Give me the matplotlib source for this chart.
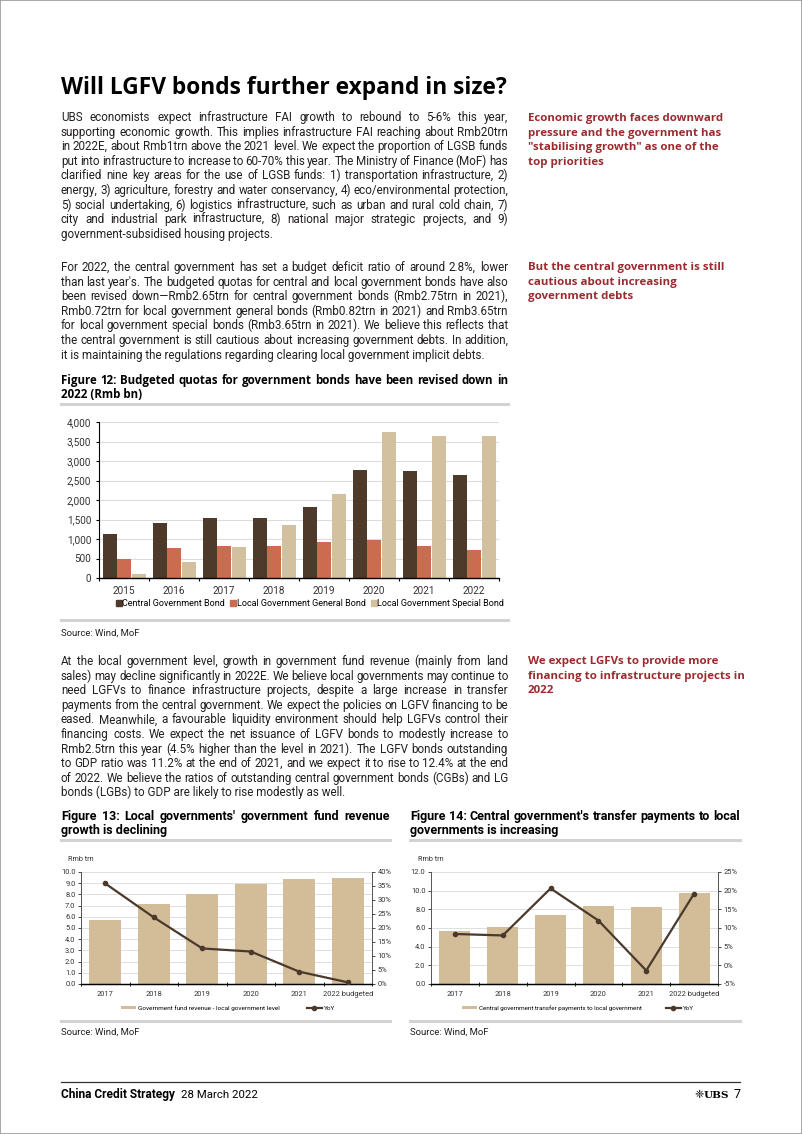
import numpy as np
import matplotlib
matplotlib.use('Agg')
import matplotlib.pyplot as plt
from matplotlib import font_manager
from matplotlib.font_manager import FontProperties
from matplotlib.lines import Line2D
from matplotlib.patches import Patch, Rectangle
from matplotlib.ticker import FuncFormatter, MultipleLocator

# Figure 12: budgeted quotas (Rmb bn)
years12 = ['2015', '2016', '2017', '2018', '2019', '2020', '2021', '2022']
central_bond = [1120, 1400, 1550, 1550, 1830, 2780, 2750, 2650]
local_general_bond = [500, 780, 830, 830, 930, 980, 820, 720]
local_special_bond = [100, 400, 800, 1350, 2150, 3750, 3650, 3650]
bond_labels = ['Central Government Bond', 'Local Government General Bond',
               'Local Government Special Bond']

# Figure 13: government fund revenue, local level (Rmb trn) and YoY (%)
years13 = ['2017', '2018', '2019', '2020', '2021', '2022 budgeted']
fund_revenue = [5.75, 7.13, 8.03, 8.93, 9.37, 9.42]
fund_revenue_yoy = [35.9, 23.8, 12.7, 11.6, 4.4, 0.6]

# Figure 14: central transfer payments to local government (Rmb trn) and YoY (%)
years14 = ['2017', '2018', '2019', '2020', '2021', '2022 budgeted']
transfer_payments = [5.72, 6.15, 7.42, 8.32, 8.22, 9.77]
transfer_yoy = [8.4, 8.0, 20.6, 12.0, -1.4, 19.2]

title = 'Will LGFV bonds further expand in size?'
para1 = [
    'UBS economists expect infrastructure FAI growth to rebound to 5-6% this year,',
    'supporting economic growth. This implies infrastructure FAI reaching about Rmb20trn',
    'in 2022E, about Rmb1trn above the 2021 level. We expect the proportion of LGSB funds',
    'put into infrastructure to increase to 60-70% this year. The Ministry of Finance (MoF) has',
    'clarified nine key areas for the use of LGSB funds: 1) transportation infrastructure, 2)',
    'energy, 3) agriculture, forestry and water conservancy, 4) eco/environmental protection,',
    '5) social undertaking, 6) logistics infrastructure, such as urban and rural cold chain, 7)',
    'city and industrial park infrastructure, 8) national major strategic projects, and 9)',
    'government-subsidised housing projects.',
]
para2 = [
    'For 2022, the central government has set a budget deficit ratio of around 2.8%, lower',
    "than last year's. The budgeted quotas for central and local government bonds have also",
    'been revised down\u2014Rmb2.65trn for central government bonds (Rmb2.75trn in 2021),',
    'Rmb0.72trn for local government general bonds (Rmb0.82trn in 2021) and Rmb3.65trn',
    'for local government special bonds (Rmb3.65trn in 2021). We believe this reflects that',
    'the central government is still cautious about increasing government debts. In addition,',
    'it is maintaining the regulations regarding clearing local government implicit debts.',
]
para3 = [
    'At the local government level, growth in government fund revenue (mainly from land',
    'sales) may decline significantly in 2022E. We believe local governments may continue to',
    'need LGFVs to finance infrastructure projects, despite a large increase in transfer',
    'payments from the central government. We expect the policies on LGFV financing to be',
    'eased. Meanwhile, a favourable liquidity environment should help LGFVs control their',
    'financing costs. We expect the net issuance of LGFV bonds to modestly increase to',
    'Rmb2.5trn this year (4.5% higher than the level in 2021). The LGFV bonds outstanding',
    'to GDP ratio was 11.2% at the end of 2021, and we expect it to rise to 12.4% at the end',
    'of 2022. We believe the ratios of outstanding central government bonds (CGBs) and LG',
    'bonds (LGBs) to GDP are likely to rise modestly as well.',
]
note1 = ['Economic growth faces downward', 'pressure and the government has',
         '"stabilising growth" as one of the', 'top priorities']
note2 = ['But the central government is still', 'cautious about increasing', 'government debts']
note3 = ['We expect LGFVs to provide more', 'financing to infrastructure projects in', '2022']
fig12_title = ['Figure 12: Budgeted quotas for government bonds have been revised down in',
               '2022 (Rmb bn)']
fig13_title = ["Figure 13: Local governments' government fund revenue", 'growth is declining']
fig14_title = ["Figure 14: Central government's transfer payments to local",
               'governments is increasing']

W, H = 802, 1134
BODY = 'Roboto'
HEAD = 'Open Sans'
names = {f.name for f in font_manager.fontManager.ttflist}
NARROW = 'Liberation Sans Narrow' if 'Liberation Sans Narrow' in names else BODY
INK = '#231f20'
RED = '#9b2b2f'
C_CENTRAL = '#4e3a2b'
C_GENERAL = '#c96c4f'
C_SPECIAL = '#d3c09f'
TAN = '#d2bd98'
DARK = '#4b3a2c'
RULE = '#d2d2d2'

fig = plt.figure(figsize=(W / 100, H / 100), dpi=100)
fig.patch.set_facecolor('white')
renderer = fig.canvas.get_renderer()


def fx(x):
    return x / W


def fy(y):
    return 1 - y / H


def tw(s, prop):
    return renderer.get_text_width_height_descent(s, prop, ismath=False)[0]


def fit(s, width, family, weight='normal', base=10.0):
    return base * width / tw(s, FontProperties(family=family, weight=weight, size=base))


def put(s, x0, x1, y, prop, color, justify):
    if not justify:
        fig.text(fx(x0), fy(y), s, fontproperties=prop, color=color, va='baseline')
        return
    words = s.split(' ')
    widths = [tw(w, prop) for w in words]
    gap = (x1 - x0 - sum(widths)) / max(len(words) - 1, 1)
    x = x0
    for w, wd in zip(words, widths):
        fig.text(fx(x), fy(y), w, fontproperties=prop, color=color, va='baseline')
        x += wd + gap


def block(lines, x0, x1, y0, step, prop, color=INK, justify=True):
    for i, s in enumerate(lines):
        put(s, x0, x1, y0 + i * step, prop, color, justify and i < len(lines) - 1)


def rule(x0, x1, y, color=RULE, lw=2.2):
    fig.add_artist(Line2D([fx(x0), fx(x1)], [fy(y), fy(y)], color=color, lw=lw))


# page frame
fig.add_artist(Rectangle((0, 0), 1, 1, transform=fig.transFigure, fill=False,
                         ec='#9a9a9a', lw=1.2))

# headline + body
s_title = fit(title, 447, HEAD, 'bold')
fig.text(fx(61), fy(94), title, fontproperties=FontProperties(family=HEAD, weight='bold',
         size=s_title), color='black', va='baseline')

body_size = fit(para1[1], 447 * 0.99, BODY)
body = FontProperties(family=BODY, size=body_size)
step = 14.6
block(para1, 61, 508, 121, step, body)
block(para2, 61, 508, 271, step, body)
block(para3, 61, 508, 665, step, body)

note_size = fit(note1[0], 195, HEAD, 'bold')
note = FontProperties(family=HEAD, weight='bold', size=note_size)
block(note1, 528, 740, 121, step, note, RED, justify=False)
block(note2, 528, 740, 270, step, note, RED, justify=False)
block(note3, 528, 740, 664, step, note, RED, justify=False)

# Figure 12 caption
cap = FontProperties(family=HEAD, weight='bold', size=fit(fig12_title[0], 447 * 0.995, HEAD, 'bold'))
block(fig12_title, 61, 508, 384, 14.0, cap, 'black')
rule(61, 508, 404)
rule(61, 508, 620)
small = FontProperties(family=BODY, size=body_size * 0.82)
fig.text(fx(61), fy(636), 'Source: Wind, MoF', fontproperties=small, color=INK, va='baseline')

# Figure 12 chart
ax = fig.add_axes([fx(99), fy(578), (499 - 99) / W, (578 - 422) / H])
x = np.arange(len(years12))
bw = 0.28
ax.bar(x - 0.29, central_bond, bw, color=C_CENTRAL, zorder=2)
ax.bar(x, local_general_bond, bw, color=C_GENERAL, zorder=2)
ax.bar(x + 0.29, local_special_bond, bw, color=C_SPECIAL, zorder=2)
ax.set_xlim(-0.5, len(years12) - 0.5)
ax.set_ylim(0, 4000)
ax.yaxis.set_major_locator(MultipleLocator(500))
ax.yaxis.set_major_formatter(FuncFormatter(lambda v, p: f'{v:,.0f}'))
ax.grid(axis='y', color='#dcdcdc', lw=0.8, zorder=0)
ax.set_axisbelow(True)
ax.set_xticks(x, years12)
ax.set_xticks(np.arange(len(years12) + 1) - 0.5, minor=True)
for side in ['top', 'right']:
    ax.spines[side].set_visible(False)
ax.spines['left'].set_linewidth(0.8)
ax.spines['bottom'].set_linewidth(1.0)
ax.tick_params(axis='x', which='major', length=0, pad=6, labelsize=7.2, labelcolor='#333333')
ax.tick_params(axis='x', which='minor', length=2.5, width=0.8)
ax.tick_params(axis='y', length=2.5, width=0.8, labelsize=7.2, labelcolor='#333333', pad=3)
for t in ax.get_xticklabels() + ax.get_yticklabels():
    t.set_family(BODY)
handles = [Line2D([], [], ls='', marker='s', ms=4, color=c)
           for c in (C_CENTRAL, C_GENERAL, C_SPECIAL)]
leg_size = fit(bond_labels[0], 103, BODY)
fig.legend(handles, bond_labels, loc='center', bbox_to_anchor=(fx(310), fy(604)), ncol=3,
           frameon=False, prop=FontProperties(family=BODY, size=leg_size), handlelength=0.6,
           handletextpad=0.1, columnspacing=0.6, borderpad=0)

# Figure 13 / 14 captions
cap2_size = fit(fig14_title[0], 330, NARROW, 'bold')
cap2 = FontProperties(family=NARROW, weight='bold', size=cap2_size)
block(fig13_title, 61, 390, 820, 14.0, cap2, 'black')
block(fig14_title, 410, 740, 820, 14.0, cap2, 'black')
for a, b in ((61, 390), (410, 740)):
    rule(a, b, 840)
    rule(a, b, 1021)
    fig.text(fx(a), fy(1035), 'Source: Wind, MoF', fontproperties=small, color=INK, va='baseline')


def combo(left, right, cats, bars, yoy, ymax, ystep, rlim, rstep, label, leg_x, colsp, lsize):
    ax = fig.add_axes([fx(left), fy(984), (right - left) / W, (984 - 872) / H])
    x = np.arange(len(cats))
    ax.bar(x, bars, 0.65, color=TAN, zorder=2)
    ax.set_xlim(-0.5, len(cats) - 0.5)
    ax.set_ylim(0, ymax)
    ax.yaxis.set_major_locator(MultipleLocator(ystep))
    ax.yaxis.set_major_formatter(FuncFormatter(lambda v, p: f'{v:.1f}'))
    ax.grid(axis='y', color='#d9d9d9', lw=0.6, zorder=0)
    ax.set_axisbelow(True)
    ax.set_xticks(x, cats)
    ax.set_xticks(np.arange(len(cats) + 1) - 0.5, minor=True)
    ax.tick_params(axis='x', which='major', length=0, pad=5, labelsize=5.4, labelcolor='#333333')
    ax.tick_params(axis='x', which='minor', length=2.5, width=0.6, direction='inout')
    ax.tick_params(axis='y', length=2, width=0.5, labelsize=5.4, labelcolor='#333333', pad=2)
    axr = ax.twinx()
    axr.plot(x, yoy, color=DARK, lw=1.6, marker='o', ms=3, zorder=3)
    axr.set_ylim(*rlim)
    axr.yaxis.set_major_locator(MultipleLocator(rstep))
    axr.yaxis.set_major_formatter(FuncFormatter(lambda v, p: f'{v:.0f}%'))
    axr.tick_params(axis='y', length=2, width=0.5, labelsize=5.4, labelcolor='#333333', pad=2)
    for a in (ax, axr):
        a.spines['top'].set_visible(False)
        for side in ('left', 'right'):
            a.spines[side].set_linewidth(0.6)
            a.spines[side].set_color('#555555')
        a.spines['bottom'].set_linewidth(0.9)
    for t in ax.get_xticklabels() + ax.get_yticklabels() + axr.get_yticklabels():
        t.set_family(BODY)
    fig.text(fx(left - 13), fy(861), 'Rmb trn', fontproperties=FontProperties(family=BODY, size=5.2),
             color='#333333', va='baseline')
    h = [Patch(facecolor=TAN), Line2D([], [], color=DARK, lw=1.6, marker='o', ms=3)]
    fig.legend(h, [label, 'YoY'], loc='center', bbox_to_anchor=(fx(leg_x), fy(1008)), ncol=2,
               frameon=False, prop=FontProperties(family=BODY, size=lsize), handlelength=2.4,
               handleheight=0.45, handletextpad=0.3, columnspacing=colsp, borderpad=0)


combo(81, 372, years13, fund_revenue, fund_revenue_yoy, 10, 1.0, (0, 40), 5,
      'Government fund revenue - local government level', 228, 4.3,
      fit('Government fund revenue - local government level', 141, BODY))
combo(431, 718, years14, transfer_payments, transfer_yoy, 12, 2.0, (-5, 25), 5,
      'Central government transfer payments to local government', 578, 3.8,
      fit('Central government transfer payments to local government', 165, BODY))

# footer
rule(61, 740, 1082, color='#333333', lw=0.9)
fig.text(fx(61), fy(1098), 'China Credit Strategy',
         fontproperties=FontProperties(family=NARROW, weight='bold', size=fit('China Credit Strategy', 115, NARROW, 'bold')),
         color='black', va='baseline')
fig.text(fx(181), fy(1098), '28 March 2022',
         fontproperties=FontProperties(family=NARROW, size=fit('28 March 2022', 76, NARROW)),
         color='black', va='baseline')
fig.text(fx(740), fy(1098), '7', fontproperties=FontProperties(family=NARROW, size=9),
         color='black', va='baseline', ha='right')
fig.text(fx(729), fy(1098), 'UBS', fontproperties=FontProperties(family='DejaVu Serif', weight='bold', size=7.5),
         color='black', va='baseline', ha='right')
fig.text(fx(704), fy(1098), '\u2748', fontproperties=FontProperties(family='DejaVu Sans', size=8),
         color='black', va='baseline', ha='right')

fig.savefig('out.png', dpi=100)
